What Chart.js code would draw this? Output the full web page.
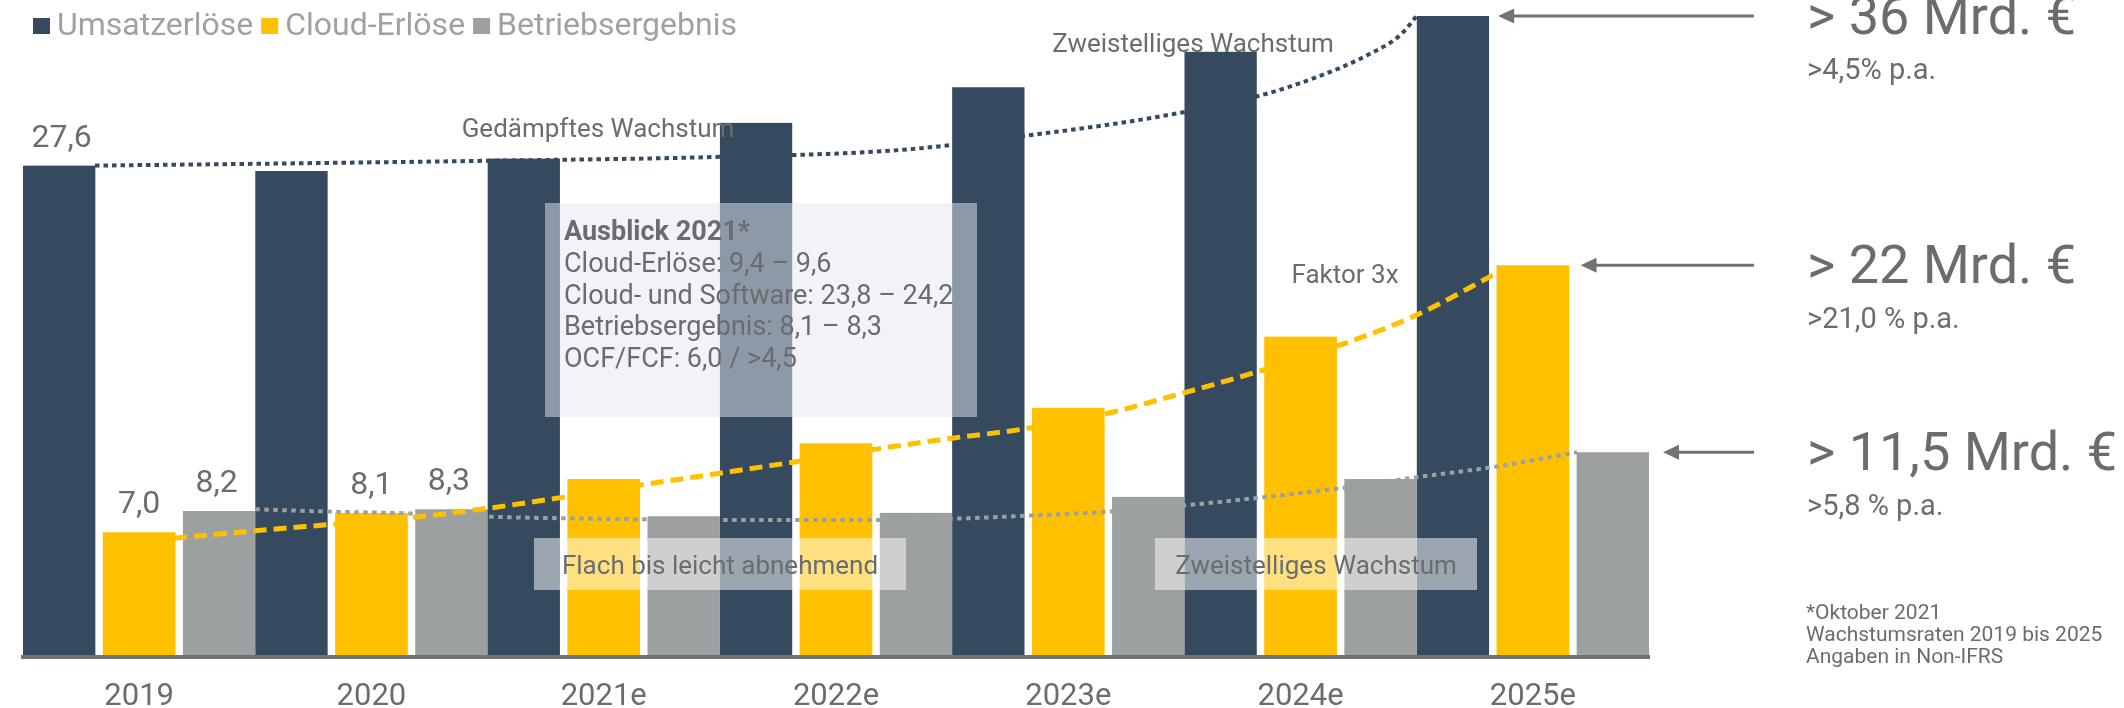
<!DOCTYPE html>
<html lang="de">
<head>
<meta charset="utf-8">
<title>Umsatz, Cloud und Betriebsergebnis bis 2025</title>
<script src="https://cdn.jsdelivr.net/npm/chart.js@4.4.1/dist/chart.umd.min.js"></script>
<style>
  html, body { margin: 0; padding: 0; background: #fff; overflow: hidden; }
  #wrap { position: relative; width: 2124px; height: 708px; }
</style>
</head>
<body>
<div id="wrap"><canvas id="chart"></canvas></div>
<script>
// Kategorien
const jahre = ['2019', '2020', '2021e', '2022e', '2023e', '2024e', '2025e'];

// Balkenwerte in Mrd. €
const umsatz = [27.6, 27.3, 28.0, 30.0, 32.0, 34.0, 36.0];
const cloud = [7.0, 8.1, 10.0, 12.0, 14.0, 18.0, 22.0];
const ergebnis = [8.2, 8.3, 7.9, 8.1, 9.0, 10.0, 11.5];

// Balken mit Zahl darüber (Index ins Jahr)
const umsatzBeschriftet = [0];
const cloudBeschriftet = [0, 1];
const ergebnisBeschriftet = [0, 1];

// Trendlinien: Lage auf der Jahresachse (0 = 2019, Bruchteile erlaubt) und Wert
const umsatzTrendX = [-0.19, 0.5, 1.5, 2.5, 3.28, 3.81, 4.35, 4.81, 5.07, 5.29, 5.43, 5.5];
const umsatzTrendY = [27.6, 27.7, 27.87, 28.09, 28.48, 29.27, 30.26, 31.48, 32.57, 33.82, 34.94, 36.0];
const cloudTrendX = [0.15, 0.49, 0.83, 1.15, 1.5, 1.84, 2.16, 2.5, 2.83, 3.18, 3.5, 3.81, 4.17, 4.49, 4.84, 5.16, 5.5, 5.85];
const cloudTrendY = [6.67, 7.08, 7.45, 7.8, 8.35, 9.0, 9.66, 10.32, 10.97, 11.69, 12.29, 12.81, 13.69, 14.81, 16.12, 17.47, 19.21, 21.6];
const ergebnisTrendX = [0.5, 0.83, 1.15, 1.5, 2.07, 2.51, 3.17, 3.51, 3.83, 4.17, 4.52, 5.17, 5.5, 5.84, 6.19];
const ergebnisTrendY = [8.3, 8.16, 8.07, 7.88, 7.75, 7.7, 7.7, 7.77, 7.94, 8.16, 8.54, 9.48, 10.1, 10.69, 11.5];

// Ziele 2025 (rechts, mit Pfeil auf den letzten Balken)
const ziele = ['> 36 Mrd. €', '> 22 Mrd. €', '> 11,5 Mrd. €'];
const zielRaten = ['>4,5% p.a.', '>21,0 % p.a.', '>5,8 % p.a.'];

const ausblickTitel = 'Ausblick 2021*';
const ausblick = ['Cloud-Erlöse: 9,4 – 9,6', 'Cloud- und Software: 23,8 – 24,2', 'Betriebsergebnis: 8,1 – 8,3', 'OCF/FCF: 6,0 / >4,5'];
const fussnoten = ['*Oktober 2021', 'Wachstumsraten 2019 bis 2025', 'Angaben in Non-IFRS'];

const NAVY = '#354a5f';
const GOLD = '#ffc000';
const HELLGRAU = '#9da0a1';
const TEXT = '#6a6d70';
const FONT = 'Roboto, "Noto Sans", sans-serif';

function komma(v) {
    return v.toFixed(1).replace('.', ',');
}

function punkte(xs, ys) {
    return xs.map((x, i) => ({ x: x, y: ys[i] }));
}

function text(ctx, str, x, y, size, color, align, weight) {
    ctx.font = (weight || '') + ' ' + size + 'px ' + FONT;
    ctx.fillStyle = color;
    ctx.textAlign = align || 'left';
    ctx.textBaseline = 'alphabetic';
    ctx.fillText(str, x, y);
}

// Beschriftungen, Kästen, Pfeile, Legende
const extras = {
    id: 'extras',
    afterDraw(chart) {
        const ctx = chart.ctx;
        const area = chart.chartArea;
        ctx.save();

        // Werte über einzelnen Balken
        chart.data.datasets.forEach((ds, di) => {
            if (!ds.beschriftet) return;
            const meta = chart.getDatasetMeta(di);
            ds.beschriftet.forEach(i => {
                const bar = meta.data[i];
                text(ctx, komma(ds.data[i]), bar.x, bar.y - 19, 32, TEXT, 'center');
            });
        });

        // Kasten Ausblick
        ctx.fillStyle = 'rgba(229, 232, 239, 0.5)';
        ctx.fillRect(545, 203, 432, 214);
        text(ctx, ausblickTitel, 564, 240, 27, TEXT, 'left', 'bold');
        ausblick.forEach((z, i) => text(ctx, z, 564, 272 + i * 31.7, 27, TEXT));

        // halbtransparente Kästen unten
        ctx.fillStyle = 'rgba(255, 255, 255, 0.5)';
        ctx.fillRect(534, 538, 372, 52);
        ctx.fillRect(1155, 538, 322, 52);
        text(ctx, 'Flach bis leicht abnehmend', 720, 574, 26, TEXT, 'center');
        text(ctx, 'Zweistelliges Wachstum', 1316, 574, 26, TEXT, 'center');

        // freie Texte an den Trendlinien
        text(ctx, 'Gedämpftes Wachstum', 598, 137, 26, TEXT, 'center');
        text(ctx, 'Zweistelliges Wachstum', 1193, 52, 26, TEXT, 'center');
        text(ctx, 'Faktor 3x', 1345, 283, 26, TEXT, 'center');

        // Pfeile auf die 2025er Balken + Ziele
        const bars = chart.data.datasets
            .map((ds, di) => ({ ds: ds, meta: chart.getDatasetMeta(di) }))
            .filter(o => o.ds.type === 'bar');
        bars.forEach((o, k) => {
            const last = o.meta.data[o.meta.data.length - 1];
            const tip = last.x + last.width / 2 + o.ds.pfeilLuecke;
            const y = last.y;
            const ende = area.right + 105;
            ctx.strokeStyle = '#707376';
            ctx.lineWidth = 3;
            ctx.beginPath();
            ctx.moveTo(tip + 12, y);
            ctx.lineTo(ende, y);
            ctx.stroke();
            ctx.fillStyle = '#707376';
            ctx.beginPath();
            ctx.moveTo(tip, y);
            ctx.lineTo(tip + 16, y - 7.5);
            ctx.lineTo(tip + 16, y + 7.5);
            ctx.closePath();
            ctx.fill();
            text(ctx, ziele[k], area.right + 158, y + 18, 54, TEXT);
            text(ctx, zielRaten[k], area.right + 158, y + 63, 29, TEXT);
        });

        // Fußnoten
        fussnoten.forEach((z, i) => text(ctx, z, area.right + 157, 619 + i * 22, 21, TEXT));

        // Legende
        let x = 33;
        bars.forEach(o => {
            ctx.fillStyle = o.ds.backgroundColor;
            ctx.fillRect(x, 18, 17, 16);
            x += 24;
            text(ctx, o.ds.label, x, 35, 32, '#9fa2a4');
            x += ctx.measureText(o.ds.label).width + 8;
        });

        ctx.restore();
    }
};

// Trendlinien liegen auf derselben Kategorieachse, mit Zwischenpositionen (parsing: false)
const trend = {
    type: 'line', parsing: false, pointRadius: 0, fill: false,
    cubicInterpolationMode: 'monotone', borderCapStyle: 'butt', order: 0
};

new Chart(document.getElementById('chart'), {
    data: {
        labels: jahre,
        datasets: [
            Object.assign({}, trend, {
                label: 'Trend Umsatz', data: punkte(umsatzTrendX, umsatzTrendY),
                borderColor: NAVY, borderWidth: 4, borderDash: [4.5, 4]
            }),
            Object.assign({}, trend, {
                label: 'Trend Cloud', data: punkte(cloudTrendX, cloudTrendY),
                borderColor: GOLD, borderWidth: 5, borderDash: [13, 7]
            }),
            Object.assign({}, trend, {
                label: 'Trend Ergebnis', data: punkte(ergebnisTrendX, ergebnisTrendY),
                borderColor: HELLGRAU, borderWidth: 4, borderDash: [4.5, 4.5]
            }),
            {
                type: 'bar', label: 'Umsatzerlöse', data: umsatz,
                backgroundColor: NAVY, borderColor: '#ffffff',
                borderWidth: { top: 0, right: 5.4, bottom: 0, left: 0 },
                order: 1, beschriftet: umsatzBeschriftet, pfeilLuecke: 4
            },
            {
                type: 'bar', label: 'Cloud-Erlöse', data: cloud,
                backgroundColor: GOLD, borderColor: '#ffffff',
                borderWidth: { top: 0, right: 2.7, bottom: 0, left: 2.7 },
                order: 1, beschriftet: cloudBeschriftet, pfeilLuecke: 9
            },
            {
                type: 'bar', label: 'Betriebsergebnis', data: ergebnis,
                backgroundColor: HELLGRAU, borderColor: '#ffffff',
                borderWidth: { top: 0, right: 0, bottom: 0, left: 5.4 },
                order: 1, beschriftet: ergebnisBeschriftet, pfeilLuecke: 14
            }
        ]
    },
    options: {
        responsive: true,
        maintainAspectRatio: false,
        animation: false,
        layout: { padding: { left: 23, right: 475, top: 0, bottom: 0 } },
        datasets: { bar: { barPercentage: 1, categoryPercentage: 1 } },
        scales: {
            x: {
                type: 'category',
                offset: true,
                grid: { display: false, drawTicks: false },
                border: { display: true, color: '#6f7275', width: 4, z: 1 },
                ticks: { color: TEXT, font: { family: FONT, size: 31 }, padding: 22 },
                afterFit(scale) { scale.height = 51; }
            },
            y: { display: false, min: 0, max: 36.9 }
        },
        plugins: {
            legend: { display: false },
            tooltip: { enabled: false }
        }
    },
    plugins: [extras]
});
</script>
</body>
</html>
